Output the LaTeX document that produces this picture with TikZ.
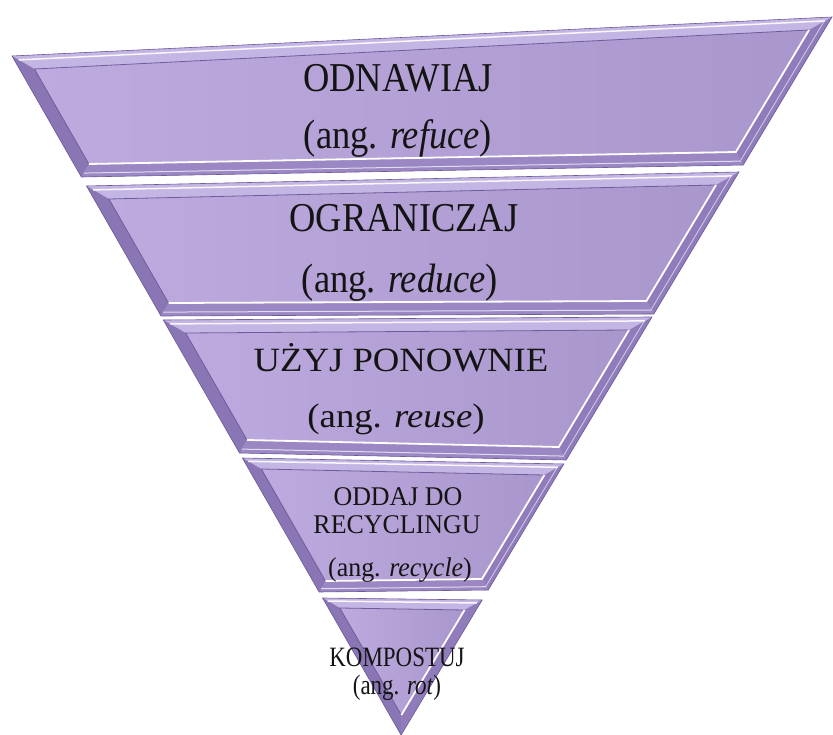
\documentclass[tikz,border=0pt]{standalone}
\usepackage{fontspec}
\setmainfont{Liberation Serif}
\usepackage{graphicx}
\usetikzlibrary{calc}
\definecolor{topband}{HTML}{C4B6E4}
\definecolor{rightband}{HTML}{907CBB}
\definecolor{bottomband}{HTML}{9A87C3}
\definecolor{leftband}{HTML}{8A76B5}
\definecolor{faceL}{HTML}{BDABE0}
\definecolor{faceR}{HTML}{A896CC}
\definecolor{edgedark}{HTML}{6E5B9B}
\definecolor{txt}{HTML}{141414}

\pgfmathdeclarefunction{leftx}{1}{\pgfmathparse{12+0.573*(#1-56)}}
\pgfmathdeclarefunction{rightx}{1}{\pgfmathparse{832-0.6*(#1-17)}}
\newcommand\bvw{13}

% name, y top-left, y top-right, y bottom-left, y bottom-right
\newcommand\pyrlayer[5]{%
  \coordinate (#1o1) at ({leftx(#2)},#2);
  \coordinate (#1o2) at ({rightx(#3)},#3);
  \coordinate (#1o3) at ({rightx(#5)},#5);
  \coordinate (#1o4) at ({leftx(#4)},#4);
  \coordinate (#1i1) at ({leftx(#2+\bvw)+\bvw*1.1525},{#2+\bvw});
  \coordinate (#1i2) at ({rightx(#3+\bvw)-\bvw*1.166},{#3+\bvw});
  \coordinate (#1i3) at ({rightx(#5-\bvw)-\bvw*1.166},{#5-\bvw});
  \coordinate (#1i4) at ({leftx(#4-\bvw)+\bvw*1.1525},{#4-\bvw});
  \fill[black,opacity=.10,shift={(6,4)}] (#1o1) -- (#1o2) -- (#1o3) -- (#1o4) -- cycle;
  \fill[black,opacity=.14,shift={(3,2)}] (#1o1) -- (#1o2) -- (#1o3) -- (#1o4) -- cycle;
  \fill[topband] (#1o1) -- (#1o2) -- (#1i2) -- (#1i1) -- cycle;
  \fill[rightband] (#1o2) -- (#1o3) -- (#1i3) -- (#1i2) -- cycle;
  \fill[bottomband] (#1o3) -- (#1o4) -- (#1i4) -- (#1i3) -- cycle;
  \fill[leftband] (#1o4) -- (#1o1) -- (#1i1) -- (#1i4) -- cycle;
  \shade[left color=faceL, right color=faceR] (#1i1) -- (#1i2) -- (#1i3) -- (#1i4) -- cycle;
  \draw[edgedark, line width=0.8pt] (#1i4) -- (#1i1) -- (#1i2);
  \draw[white, line width=1.8pt] (#1i2) -- (#1i3) -- (#1i4);
  \draw[white, line width=1.5pt, opacity=.9] ($(#1o1)!0.3!(#1i1)$) -- ($(#1o2)!0.3!(#1i2)$);
  \draw[white, line width=1pt, opacity=.7] ($(#1o4)!0.3!(#1i4)$) -- ($(#1o3)!0.3!(#1i3)$);
  \draw[white, line width=0.8pt, opacity=.6] ($(#1o2)!0.35!(#1i2)$) -- ($(#1o3)!0.35!(#1i3)$);
  \draw[edgedark, line width=0.6pt] (#1o1) -- (#1o2) -- (#1o3) -- (#1o4) -- cycle;
}

\tikzset{
  lbl/.style={anchor=base, inner sep=0pt, text=txt},
  fa/.style={font=\fontsize{41}{46}\selectfont},
  fb/.style={font=\fontsize{34}{40}\selectfont},
  fc/.style={font=\fontsize{27}{30}\selectfont},
  fd/.style={font=\fontsize{28}{30}\selectfont},
}

\begin{document}
\begin{tikzpicture}[x=1pt,y=-1pt]
\useasboundingbox (0,0) rectangle (833,735);

\pyrlayer{a}{56}{17}{177}{165}
\pyrlayer{b}{186}{172}{316}{314}
\pyrlayer{c}{320}{317}{453}{460}
\renewcommand\bvw{11}
\pyrlayer{d}{458}{464}{592}{590}

% bottom triangle
\coordinate (eo1) at ({leftx(598)},598);
\coordinate (eo2) at ({rightx(600)},600);
\coordinate (eap) at (401.1,735);
\coordinate (ei1) at ({leftx(608)+11.525},608);
\coordinate (ei2) at ({rightx(610)-11.66},610);
\coordinate (eiap) at (401.3,715);
\fill[black,opacity=.10,shift={(6,4)}] (eo1) -- (eo2) -- (eap) -- cycle;
\fill[black,opacity=.14,shift={(3,2)}] (eo1) -- (eo2) -- (eap) -- cycle;
\fill[topband] (eo1) -- (eo2) -- (ei2) -- (ei1) -- cycle;
\fill[rightband] (eo2) -- (eap) -- (eiap) -- (ei2) -- cycle;
\fill[leftband] (eap) -- (eo1) -- (ei1) -- (eiap) -- cycle;
\shade[left color=faceL, right color=faceR] (ei1) -- (ei2) -- (eiap) -- cycle;
\draw[edgedark, line width=0.8pt] (eiap) -- (ei1) -- (ei2);
\draw[white, line width=1.8pt] (ei2) -- (eiap);
\draw[white, line width=1.5pt, opacity=.9] ($(eo1)!0.3!(ei1)$) -- ($(eo2)!0.3!(ei2)$);
\draw[edgedark, line width=0.6pt] (eo1) -- (eo2) -- (eap) -- cycle;

% texts
\node[lbl,fa] (t1a) at (398,92) {\scalebox{0.89}[1]{ODNAWIAJ}};
\node[lbl,fa] (t1b) at (398,149) {\scalebox{0.89}[1]{(ang. \textit{refuce})}};
\node[lbl,fa] (t2a) at (404,232) {\scalebox{0.89}[1]{OGRANICZAJ}};
\node[lbl,fa] (t2b) at (400,293) {\scalebox{0.89}[1]{(ang. \textit{reduce})}};
\node[lbl,fb] (t3a) at (401,372) {\scalebox{1.08}[1]{UŻYJ PONOWNIE}};
\node[lbl,fb] (t3b) at (396,427) {\scalebox{1.08}[1]{(ang. \textit{reuse})}};
\node[lbl,fc] (t4a) at (398,505) {\scalebox{0.96}[1]{ODDAJ DO}};
\node[lbl,fc] (t4b) at (397,533) {\scalebox{0.96}[1]{RECYCLINGU}};
\node[lbl,fc] (t4c) at (400,576) {\scalebox{0.96}[1]{(ang. \textit{recycle})}};
\node[lbl,fd] (t5a) at (397,666) {\scalebox{0.82}[1]{KOMPOSTUJ}};
\node[lbl,fd] (t5b) at (397,694) {\scalebox{0.82}[1]{(ang. \textit{rot})}};
\end{tikzpicture}
\end{document}
